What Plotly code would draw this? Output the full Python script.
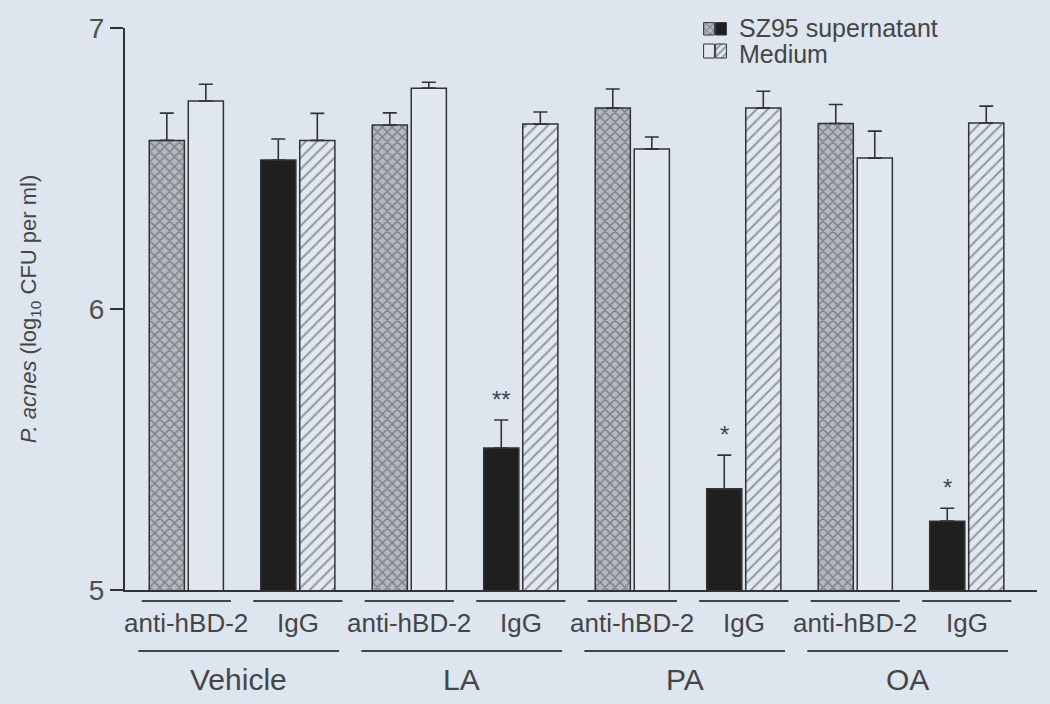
import plotly.graph_objects as go

# ---------------- data ----------------
groups = ["Vehicle", "LA", "PA", "OA"]
sub_labels = ["anti-hBD-2", "IgG", "anti-hBD-2", "IgG", "anti-hBD-2", "IgG", "anti-hBD-2", "IgG"]
series_names = ["SZ95 supernatant", "Medium"]
sz95 = [6.60, 6.53, 6.655, 5.505, 6.715, 5.36, 6.66, 5.245]
sz95_err = [0.097, 0.075, 0.043, 0.10, 0.068, 0.12, 0.068, 0.046]
medium = [6.74, 6.60, 6.786, 6.658, 6.569, 6.715, 6.537, 6.662]
medium_err = [0.06, 0.096, 0.021, 0.043, 0.043, 0.06, 0.096, 0.06]
signif = ["", "", "", "**", "", "*", "", "*"]
y_ticks = [5, 6, 7]

# ---------------- styles ----------------
BG = "#dde5ef"
INK = "#333333"
TXT = "#454545"
FONT = "Liberation Sans, Arial, sans-serif"
CROSS_BG = "#b3b8c2"
BLACK = "#1f1f1f"
LIGHT = "#e1e8f1"

xs = list(range(len(sub_labels)))
is_anti = [s == "anti-hBD-2" for s in sub_labels]

sz_colors = [CROSS_BG if a else BLACK for a in is_anti]
sz_shapes = ["x" if a else "" for a in is_anti]
md_colors = [LIGHT for a in is_anti]
md_shapes = ["" if a else "/" for a in is_anti]

fig = go.Figure()

fig.add_trace(go.Bar(
    x=xs, y=sz95, name=series_names[0], showlegend=False,
    marker=dict(color=sz_colors, line=dict(color=INK, width=1.5),
                pattern=dict(shape=sz_shapes, fgcolor="#333333", size=7, solidity=0.38)),
    error_y=dict(type="data", symmetric=False, array=sz95_err, arrayminus=[0] * len(sz95),
                 color=INK, thickness=1.6, width=7),
))
fig.add_trace(go.Bar(
    x=xs, y=medium, name=series_names[1], showlegend=False,
    marker=dict(color=md_colors, line=dict(color=INK, width=1.5),
                pattern=dict(shape=md_shapes, fgcolor="#555555", size=8, solidity=0.25)),
    error_y=dict(type="data", symmetric=False, array=medium_err, arrayminus=[0] * len(medium),
                 color=INK, thickness=1.6, width=7),
))

# legend swatches (small bars in an overlay axis)
fig.add_trace(go.Bar(
    x=[0, 1, 0, 1], y=[0.62, 0.62, 0.7, 0.7], base=[1.25, 1.25, 0.1, 0.1],
    xaxis="x2", yaxis="y2", showlegend=False, width=0.9, hoverinfo="skip",
    marker=dict(color=[CROSS_BG, BLACK, LIGHT, LIGHT], line=dict(color=INK, width=1),
                pattern=dict(shape=["x", "", "", "/"], fgcolor="#3a3a3a", size=5, solidity=0.35)),
))

annotations = []
shapes = []

# significance marks
bar_off = 0.175
for i, s in enumerate(signif):
    if s:
        annotations.append(dict(x=i - bar_off, y=sz95[i] + sz95_err[i], xref="x", yref="y",
                                text=s, showarrow=False, yanchor="bottom", yshift=5,
                                font=dict(size=24, color=TXT, family=FONT)))

PH = 575.0
# sub labels and underlines
for i, lab in enumerate(sub_labels):
    annotations.append(dict(x=i, y=0, xref="x", yref="paper", text=lab, showarrow=False,
                            yanchor="middle", yshift=-33,
                            font=dict(size=26, color=TXT, family=FONT)))
    shapes.append(dict(type="line", xref="x", yref="paper", x0=i - 0.40, x1=i + 0.40,
                       y0=-11 / PH, y1=-11 / PH, line=dict(color="#444444", width=2)))

# group labels and lines
for g, name in enumerate(groups):
    a, b = 2 * g, 2 * g + 1
    annotations.append(dict(x=(a + b) / 2 - 0.03, y=0, xref="x", yref="paper", text=name,
                            showarrow=False, yanchor="middle", yshift=-89,
                            font=dict(size=30, color=TXT, family=FONT)))
    shapes.append(dict(type="line", xref="x", yref="paper", x0=a - 0.43, x1=b + 0.37,
                       y0=-61 / PH, y1=-61 / PH, line=dict(color="#444444", width=2)))

# legend text
for name, ypx in zip(series_names, [28, 54]):
    annotations.append(dict(x=(737 - 125) / 912.0, y=(590 - ypx) / PH, xref="paper", yref="paper",
                            text=name, showarrow=False, xanchor="left", yanchor="middle",
                            font=dict(size=25, color=TXT, family=FONT)))

fig.update_layout(
    width=1050, height=704,
    margin=dict(l=125, r=13, t=15, b=114, autoexpand=False),
    paper_bgcolor=BG, plot_bgcolor="rgba(0,0,0,0)",
    barmode="group", bargap=0.3, bargroupgap=0.1,
    font=dict(family=FONT, color=TXT),
    xaxis=dict(range=[-0.55, 7.63], showline=True, linecolor=INK, linewidth=2, automargin=False,
               showticklabels=False, ticks="", showgrid=False, zeroline=False, fixedrange=True),
    yaxis=dict(range=[5, 7], domain=[0, 562 / PH], tickvals=y_ticks, ticks="outside",
               ticklen=13, tickwidth=2, tickcolor=INK, showline=True, linecolor=INK, linewidth=2,
               automargin=False,
               showgrid=False, zeroline=False, tickfont=dict(size=28, color="#505050", family=FONT),
               title=dict(text="<i>P. acnes</i> (log<sub>10</sub> CFU per ml)",
                          font=dict(size=22, color=TXT, family=FONT), standoff=46)),
    xaxis2=dict(domain=[(703 - 125) / 912.0, (727 - 125) / 912.0], range=[-0.5, 1.5],
                anchor="y2", visible=False, fixedrange=True),
    yaxis2=dict(domain=[(590 - 60) / PH, (590 - 20) / PH], range=[0, 2],
                anchor="x2", visible=False, fixedrange=True),
    annotations=annotations, shapes=shapes,
)

fig.write_html("out.html", config={"displayModeBar": False},
               post_script="document.body.style.margin='0';document.body.style.overflow='hidden';")
